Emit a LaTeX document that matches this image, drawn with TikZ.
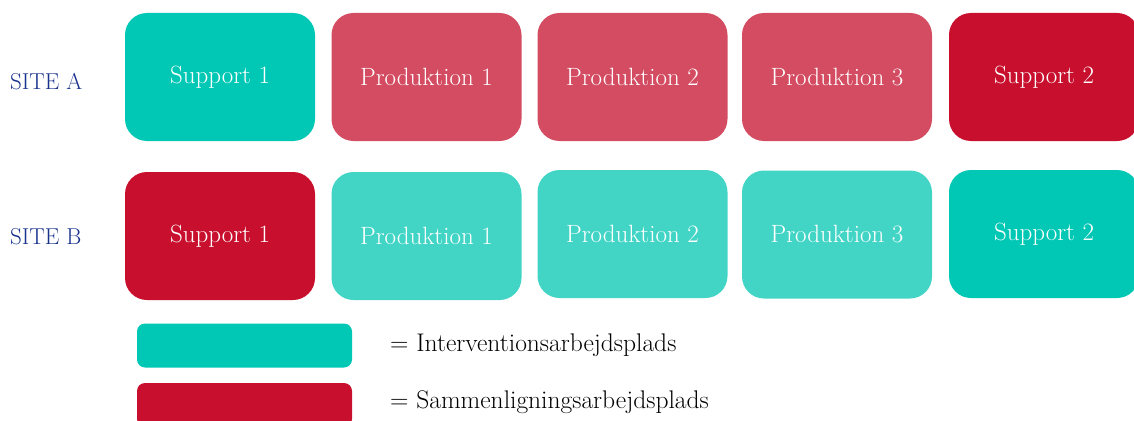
\documentclass[tikz,border=0pt]{standalone}
\definecolor{teal1}{RGB}{0,200,180}
\definecolor{teal2}{RGB}{66,213,198}
\definecolor{red1}{RGB}{200,16,46}
\definecolor{red2}{RGB}{212,76,98}
\definecolor{sitecol}{RGB}{25,50,140}
\tikzset{
  site/.style={rounded corners=22pt,minimum width=190pt,minimum height=128pt,inner sep=0pt,text=white,font=\fontsize{25}{30}\selectfont},
  key/.style={rounded corners=8pt,minimum width=215pt,minimum height=44pt,inner sep=0pt},
  sitelabel/.style={anchor=west,text=sitecol,inner sep=0pt,font=\fontsize{23}{27}\selectfont},
  keytext/.style={anchor=west,inner sep=0pt,font=\fontsize{25.5}{30}\selectfont}
}
\begin{document}
\begin{tikzpicture}[x=1pt,y=-1pt]
      \useasboundingbox (0,0) rectangle (1134,420);
      \clip (0,0) rectangle (1134,420);
      \node[sitelabel] (siteA) at (10,82) {SITE A};
      \node[sitelabel] (siteB) at (10,237) {SITE B};
      % site A
      \node[site,fill=teal1] (aS1) at (220,77) {Support 1};
      \node[site,fill=red2] (aP1) at (426.5,77) {Produktion 1};
      \node[site,fill=red2] (aP2) at (632.5,77) {Produktion 2};
      \node[site,fill=red2] (aP3) at (837,77) {Produktion 3};
      \node[site,fill=red1] (aS2) at (1044,77) {Support 2};
      % site B
      \node[site,fill=red1] (bS1) at (220,236) {Support 1};
      \node[site,fill=teal2] (bP1) at (426.5,236) {Produktion 1};
      \node[site,fill=teal2] (bP2) at (632.5,234) {Produktion 2};
      \node[site,fill=teal2] (bP3) at (837,234.5) {Produktion 3};
      \node[site,fill=teal1] (bS2) at (1044,234) {Support 2};
      % legend
      \node[key,fill=teal1] (keyI) at (244.5,345.5) {};
      \node[key,fill=red1] (keyS) at (244.5,405) {};
      \node[keytext] (txtI) at (390,345) {= Interventionsarbejdsplads};
      \node[keytext] (txtS) at (390,402) {= Sammenligningsarbejdsplads};
    \end{tikzpicture}
\end{document}
